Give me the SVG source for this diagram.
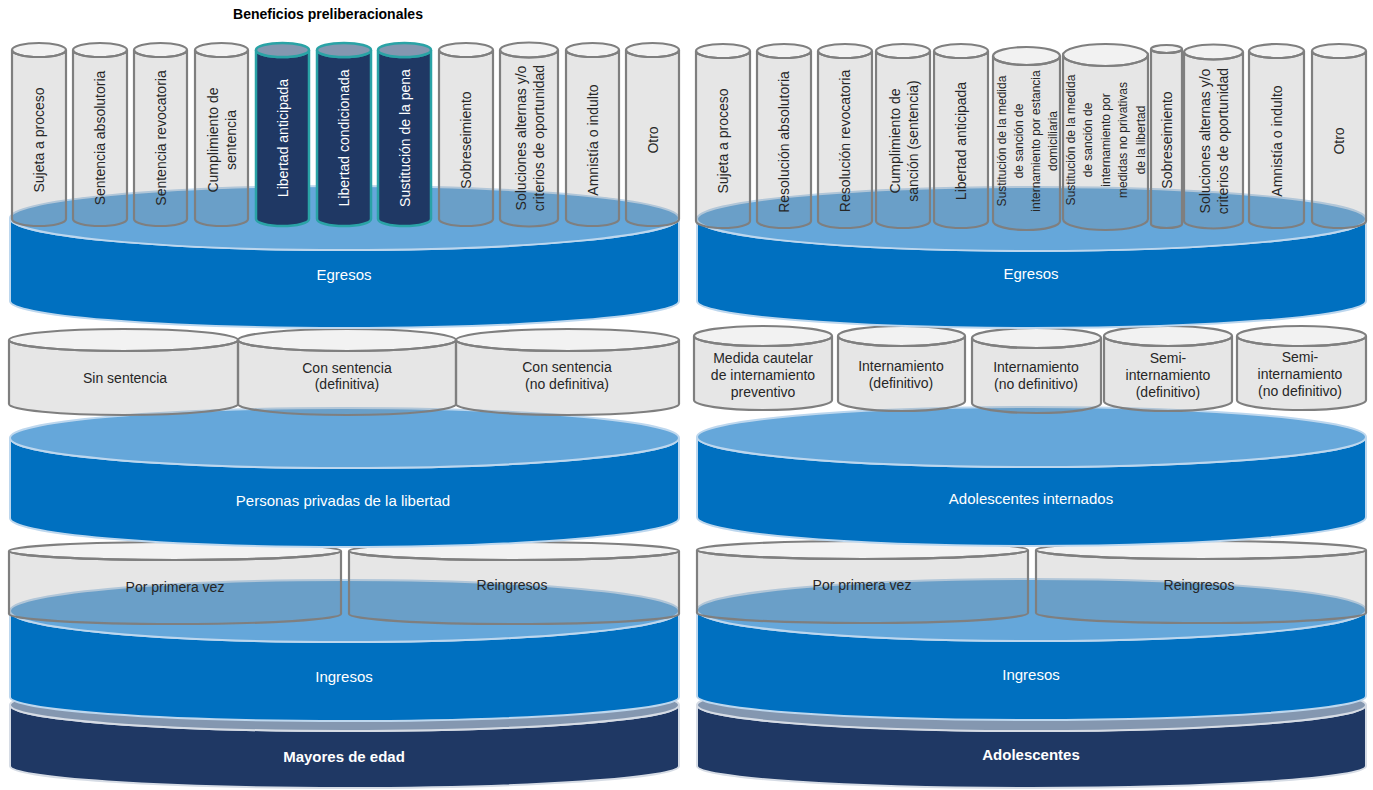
<svg xmlns="http://www.w3.org/2000/svg" width="1373" height="790" viewBox="0 0 1373 790">
<style>
.gbody{fill:#808080;fill-opacity:.2;stroke:#7F7F7F;stroke-width:2.2}
.gtop{fill:#808080;fill-opacity:.1;stroke:#7F7F7F;stroke-width:2.2}
.dbody{fill:#1F3864;stroke:#2AA3A6;stroke-width:2.5}
.dtop{fill:#8497B0;stroke:#2AA3A6;stroke-width:2.5}
.bbody{fill:#0070C0;stroke:#BDD7EE;stroke-width:2}
.btop{fill:#65A7DA;stroke:#BDD7EE;stroke-width:2}
.nbody{fill:#1F3864;stroke:#D6DCE5;stroke-width:2}
.ntop{fill:#8497B0;stroke:#D6DCE5;stroke-width:2}
text{font-family:'Liberation Sans',Arial,sans-serif;text-anchor:middle}
.v{font-size:14px;fill:#262626}
.vs{font-size:12px;fill:#262626}
.vw{font-size:14px;fill:#FFFFFF}
.h{font-size:14px;fill:#262626}
.b{font-size:15px;fill:#FFFFFF}
.bb{font-size:15px;fill:#FFFFFF;font-weight:bold}
.t{font-size:14px;fill:#000000;font-weight:bold}
</style>
<rect width="1373" height="790" fill="#FFFFFF"/>

<!-- LEFT COLUMN -->
<g id="mayores-de-edad">
<path class="nbody" d="M10 705A334.5 26 0 0 0 679 705V766A334.5 22 0 0 1 10 766Z"/>
<ellipse class="ntop" cx="344.5" cy="705" rx="334.5" ry="26"/>
<text class="bb" x="344" y="762">Mayores de edad</text>
</g>
<g id="ingresos-izq">
<path class="bbody" d="M10 611A334.5 31 0 0 0 679 611V697A334.5 24 0 0 1 10 697Z"/>
<ellipse class="btop" cx="344.5" cy="611" rx="334.5" ry="31"/>
<text class="b" x="344" y="682">Ingresos</text>
</g>
<g id="por-primera-vez-izq">
<path class="gbody" d="M9 551A166 9 0 0 0 341 551V614A166 10 0 0 1 9 614Z"/>
<ellipse class="gtop" cx="175" cy="551" rx="166" ry="9"/>
<text class="h" x="175" y="592">Por primera vez</text>
</g>
<g id="reingresos-izq">
<path class="gbody" d="M349 551A165 9 0 0 0 679 551V614A165 10 0 0 1 349 614Z"/>
<ellipse class="gtop" cx="514" cy="551" rx="165" ry="9"/>
<text class="h" x="512" y="590">Reingresos</text>
</g>
<g id="personas-privadas">
<path class="bbody" d="M10 438A334.5 30 0 0 0 679 438V518A334.5 29 0 0 1 10 518Z"/>
<ellipse class="btop" cx="344.5" cy="438" rx="334.5" ry="30"/>
<text class="b" x="343" y="506">Personas privadas de la libertad</text>
</g>
<g id="sin-sentencia">
<path class="gbody" d="M9 340A114.5 11 0 0 0 238 340V404A114.5 11 0 0 1 9 404Z"/>
<ellipse class="gtop" cx="123.5" cy="340" rx="114.5" ry="11"/>
<text class="h" x="125" y="383">Sin sentencia</text>
</g>
<g id="con-sentencia-definitiva">
<path class="gbody" d="M238 340A109 11 0 0 0 456 340V404A109 11 0 0 1 238 404Z"/>
<ellipse class="gtop" cx="347" cy="340" rx="109" ry="11"/>
<text class="h" x="347" y="373">Con sentencia</text>
<text class="h" x="347" y="389">(definitiva)</text>
</g>
<g id="con-sentencia-no-definitiva">
<path class="gbody" d="M456 340A111.5 11 0 0 0 679 340V404A111.5 11 0 0 1 456 404Z"/>
<ellipse class="gtop" cx="567.5" cy="340" rx="111.5" ry="11"/>
<text class="h" x="567" y="372">Con sentencia</text>
<text class="h" x="567" y="389">(no definitiva)</text>
</g>
<g id="egresos-izq">
<path class="bbody" d="M10 218A334.5 32 0 0 0 679 218V301A334.5 27 0 0 1 10 301Z"/>
<ellipse class="btop" cx="344.5" cy="218" rx="334.5" ry="32"/>
<text class="b" x="344" y="280">Egresos</text>
</g>
<g id="l-sujeta">
<path class="gbody" d="M12 50A27 7 0 0 0 66 50V219A27 7 0 0 1 12 219Z"/>
<ellipse class="gtop" cx="39" cy="50" rx="27" ry="7"/>
<text class="v" transform="translate(39,140) rotate(-90)" y="5">Sujeta a proceso</text>
</g>
<g id="l-absolutoria">
<path class="gbody" d="M73 50A27 7 0 0 0 127 50V219A27 7 0 0 1 73 219Z"/>
<ellipse class="gtop" cx="100" cy="50" rx="27" ry="7"/>
<text class="v" transform="translate(100,138) rotate(-90)" y="5">Sentencia absolutoria</text>
</g>
<g id="l-revocatoria">
<path class="gbody" d="M134 50A26.5 7 0 0 0 187 50V219A26.5 7 0 0 1 134 219Z"/>
<ellipse class="gtop" cx="160.5" cy="50" rx="26.5" ry="7"/>
<text class="v" transform="translate(160.5,138) rotate(-90)" y="5">Sentencia revocatoria</text>
</g>
<g id="l-cumplimiento">
<path class="gbody" d="M195 50A26.5 7 0 0 0 248 50V219A26.5 7 0 0 1 195 219Z"/>
<ellipse class="gtop" cx="221.5" cy="50" rx="26.5" ry="7"/>
<text class="v" transform="translate(221.5,140) rotate(-90)"><tspan x="0" y="-4">Cumplimiento  de</tspan><tspan x="0" y="14">sentencia</tspan></text>
</g>
<g id="l-libertad-anticipada">
<path class="dbody" d="M256 50A26.5 7 0 0 0 309 50V219A26.5 7 0 0 1 256 219Z"/>
<ellipse class="dtop" cx="282.5" cy="50" rx="26.5" ry="7"/>
<text class="vw" transform="translate(282.5,138) rotate(-90)" y="5">Libertad anticipada</text>
</g>
<g id="l-libertad-condicionada">
<path class="dbody" d="M317 50A27 7 0 0 0 371 50V219A27 7 0 0 1 317 219Z"/>
<ellipse class="dtop" cx="344" cy="50" rx="27" ry="7"/>
<text class="vw" transform="translate(344,138) rotate(-90)" y="5">Libertad condicionada</text>
</g>
<g id="l-sustitucion">
<path class="dbody" d="M378 50A26.5 7 0 0 0 431 50V219A26.5 7 0 0 1 378 219Z"/>
<ellipse class="dtop" cx="404.5" cy="50" rx="26.5" ry="7"/>
<text class="vw" transform="translate(404.5,138) rotate(-90)" y="5">Sustitución de la pena</text>
</g>
<g id="l-sobreseimiento">
<path class="gbody" d="M439 50A27 7 0 0 0 493 50V219A27 7 0 0 1 439 219Z"/>
<ellipse class="gtop" cx="466" cy="50" rx="27" ry="7"/>
<text class="v" transform="translate(466,140) rotate(-90)" y="5">Sobreseimiento</text>
</g>
<g id="l-soluciones">
<path class="gbody" d="M500 50A29 7.5 0 0 0 558 50V219A29 7.5 0 0 1 500 219Z"/>
<ellipse class="gtop" cx="529" cy="50" rx="29" ry="7.5"/>
<text class="v" transform="translate(530,138) rotate(-90)"><tspan x="0" y="-4">Soluciones alternas  y/o</tspan><tspan x="0" y="14">criterios de oportunidad</tspan></text>
</g>
<g id="l-amnistia">
<path class="gbody" d="M566 50A26.5 7 0 0 0 619 50V219A26.5 7 0 0 1 566 219Z"/>
<ellipse class="gtop" cx="592.5" cy="50" rx="26.5" ry="7"/>
<text class="v" transform="translate(592.5,140) rotate(-90)" y="5">Amnistía o indulto</text>
</g>
<g id="l-otro">
<path class="gbody" d="M626 50A26.5 7 0 0 0 679 50V219A26.5 7 0 0 1 626 219Z"/>
<ellipse class="gtop" cx="652.5" cy="50" rx="26.5" ry="7"/>
<text class="v" transform="translate(652.5,140) rotate(-90)" y="5">Otro</text>
</g>
<g id="titulo-beneficios">
<text class="t" x="328" y="19">Beneficios preliberacionales</text>
</g>

<!-- RIGHT COLUMN -->
<g id="adolescentes">
<path class="nbody" d="M697 705A334.5 26 0 0 0 1366 705V766A334.5 22 0 0 1 697 766Z"/>
<ellipse class="ntop" cx="1031.5" cy="705" rx="334.5" ry="26"/>
<text class="bb" x="1031" y="760">Adolescentes</text>
</g>
<g id="ingresos-der">
<path class="bbody" d="M697 610A334.5 31 0 0 0 1366 610V696A334.5 24 0 0 1 697 696Z"/>
<ellipse class="btop" cx="1031.5" cy="610" rx="334.5" ry="31"/>
<text class="b" x="1031" y="680">Ingresos</text>
</g>
<g id="por-primera-vez-der">
<path class="gbody" d="M697 550A165.5 9 0 0 0 1028 550V613A165.5 10 0 0 1 697 613Z"/>
<ellipse class="gtop" cx="862.5" cy="550" rx="165.5" ry="9"/>
<text class="h" x="862" y="590">Por primera vez</text>
</g>
<g id="reingresos-der">
<path class="gbody" d="M1036 550A165 9 0 0 0 1366 550V613A165 10 0 0 1 1036 613Z"/>
<ellipse class="gtop" cx="1201" cy="550" rx="165" ry="9"/>
<text class="h" x="1199" y="590">Reingresos</text>
</g>
<g id="adolescentes-internados">
<path class="bbody" d="M697 437A334.5 30 0 0 0 1366 437V517A334.5 29 0 0 1 697 517Z"/>
<ellipse class="btop" cx="1031.5" cy="437" rx="334.5" ry="30"/>
<text class="b" x="1031" y="504">Adolescentes internados</text>
</g>
<g id="medida-cautelar">
<path class="gbody" d="M694 336A69 10 0 0 0 832 336V400A69 10 0 0 1 694 400Z"/>
<ellipse class="gtop" cx="763" cy="336" rx="69" ry="10"/>
<text class="h" x="763" y="363">Medida cautelar</text>
<text class="h" x="763" y="380">de internamiento</text>
<text class="h" x="763" y="397">preventivo</text>
</g>
<g id="internamiento-definitivo">
<path class="gbody" d="M838 336A63.5 10 0 0 0 965 336V401A63.5 10 0 0 1 838 401Z"/>
<ellipse class="gtop" cx="901.5" cy="336" rx="63.5" ry="10"/>
<text class="h" x="901" y="371">Internamiento</text>
<text class="h" x="901" y="388">(definitivo)</text>
</g>
<g id="internamiento-no-definitivo">
<path class="gbody" d="M972 338A64.5 10 0 0 0 1101 338V403A64.5 10 0 0 1 972 403Z"/>
<ellipse class="gtop" cx="1036.5" cy="338" rx="64.5" ry="10"/>
<text class="h" x="1036" y="372">Internamiento</text>
<text class="h" x="1036" y="389">(no definitivo)</text>
</g>
<g id="semi-definitivo">
<path class="gbody" d="M1104 336A64 10 0 0 0 1232 336V401A64 10 0 0 1 1104 401Z"/>
<ellipse class="gtop" cx="1168" cy="336" rx="64" ry="10"/>
<text class="h" x="1168" y="363">Semi-</text>
<text class="h" x="1168" y="380">internamiento</text>
<text class="h" x="1168" y="397">(definitivo)</text>
</g>
<g id="semi-no-definitivo">
<path class="gbody" d="M1237 336A64.5 10 0 0 0 1366 336V400A64.5 10 0 0 1 1237 400Z"/>
<ellipse class="gtop" cx="1301.5" cy="336" rx="64.5" ry="10"/>
<text class="h" x="1300" y="362">Semi-</text>
<text class="h" x="1300" y="379">internamiento</text>
<text class="h" x="1300" y="396">(no definitivo)</text>
</g>
<g id="egresos-der">
<path class="bbody" d="M697 219A334.5 32 0 0 0 1366 219V301A334.5 27 0 0 1 697 301Z"/>
<ellipse class="btop" cx="1031.5" cy="219" rx="334.5" ry="32"/>
<text class="b" x="1031" y="279">Egresos</text>
</g>
<g id="r-sujeta">
<path class="gbody" d="M696 51A27 7 0 0 0 750 51V221A27 7 0 0 1 696 221Z"/>
<ellipse class="gtop" cx="723" cy="51" rx="27" ry="7"/>
<text class="v" transform="translate(723,141) rotate(-90)" y="5">Sujeta a proceso</text>
</g>
<g id="r-absolutoria">
<path class="gbody" d="M757 51A27 7 0 0 0 811 51V221A27 7 0 0 1 757 221Z"/>
<ellipse class="gtop" cx="784" cy="51" rx="27" ry="7"/>
<text class="v" transform="translate(784,142) rotate(-90)" y="5">Resolución absolutoria</text>
</g>
<g id="r-revocatoria">
<path class="gbody" d="M818 51A27 7 0 0 0 872 51V221A27 7 0 0 1 818 221Z"/>
<ellipse class="gtop" cx="845" cy="51" rx="27" ry="7"/>
<text class="v" transform="translate(845,141) rotate(-90)" y="5">Resolución revocatoria</text>
</g>
<g id="r-cumplimiento">
<path class="gbody" d="M876 51A27 7 0 0 0 930 51V221A27 7 0 0 1 876 221Z"/>
<ellipse class="gtop" cx="903" cy="51" rx="27" ry="7"/>
<text class="v" transform="translate(904,141) rotate(-90)"><tspan x="0" y="-4">Cumplimiento  de</tspan><tspan x="0" y="14">sanción (sentencia)</tspan></text>
</g>
<g id="r-libertad-anticipada">
<path class="gbody" d="M934 51A27 7 0 0 0 988 51V221A27 7 0 0 1 934 221Z"/>
<ellipse class="gtop" cx="961" cy="51" rx="27" ry="7"/>
<text class="v" transform="translate(961,141) rotate(-90)" y="5">Libertad anticipada</text>
</g>
<g id="r-sustitucion-domiciliaria">
<path class="gbody" d="M993 56A33.5 9 0 0 0 1060 56V221A33.5 9 0 0 1 993 221Z"/>
<ellipse class="gtop" cx="1026.5" cy="56" rx="33.5" ry="9"/>
<text class="vs" transform="translate(1027,141) rotate(-90)"><tspan x="0" y="-21">Sustitución de la medida</tspan><tspan x="0" y="-4">de sanción de</tspan><tspan x="0" y="13">internamiento  por estancia</tspan><tspan x="0" y="30">domiciliaria</tspan></text>
</g>
<g id="r-sustitucion-no-privativas">
<path class="gbody" d="M1063 55A42.5 11 0 0 0 1148 55V219A42.5 11 0 0 1 1063 219Z"/>
<ellipse class="gtop" cx="1105.5" cy="55" rx="42.5" ry="11"/>
<text class="vs" transform="translate(1105.5,140) rotate(-90)"><tspan x="0" y="-31">Sustitución de la medida</tspan><tspan x="0" y="-13.5">de sanción de</tspan><tspan x="0" y="4">internamiento  por</tspan><tspan x="0" y="21.5">medidas no privativas</tspan><tspan x="0" y="39">de la libertad</tspan></text>
</g>
<g id="r-sobreseimiento">
<path class="gbody" d="M1151 49A15.5 4 0 0 0 1182 49V224A15.5 4 0 0 1 1151 224Z"/>
<ellipse class="gtop" cx="1166.5" cy="49" rx="15.5" ry="4"/>
<text class="v" transform="translate(1166.5,140) rotate(-90)" y="5">Sobreseimiento</text>
</g>
<g id="r-soluciones">
<path class="gbody" d="M1184 52A29.5 7.5 0 0 0 1243 52V221A29.5 7.5 0 0 1 1184 221Z"/>
<ellipse class="gtop" cx="1213.5" cy="52" rx="29.5" ry="7.5"/>
<text class="v" transform="translate(1214,141) rotate(-90)"><tspan x="0" y="-4">Soluciones alternas  y/o</tspan><tspan x="0" y="14">criterios de oportunidad</tspan></text>
</g>
<g id="r-amnistia">
<path class="gbody" d="M1249 51A27.5 7 0 0 0 1304 51V221A27.5 7 0 0 1 1249 221Z"/>
<ellipse class="gtop" cx="1276.5" cy="51" rx="27.5" ry="7"/>
<text class="v" transform="translate(1276.5,141) rotate(-90)" y="5">Amnistía o indulto</text>
</g>
<g id="r-otro">
<path class="gbody" d="M1312 51A27 7 0 0 0 1366 51V221A27 7 0 0 1 1312 221Z"/>
<ellipse class="gtop" cx="1339" cy="51" rx="27" ry="7"/>
<text class="v" transform="translate(1339,141) rotate(-90)" y="5">Otro</text>
</g>
<g id="connectors"></g>
</svg>
